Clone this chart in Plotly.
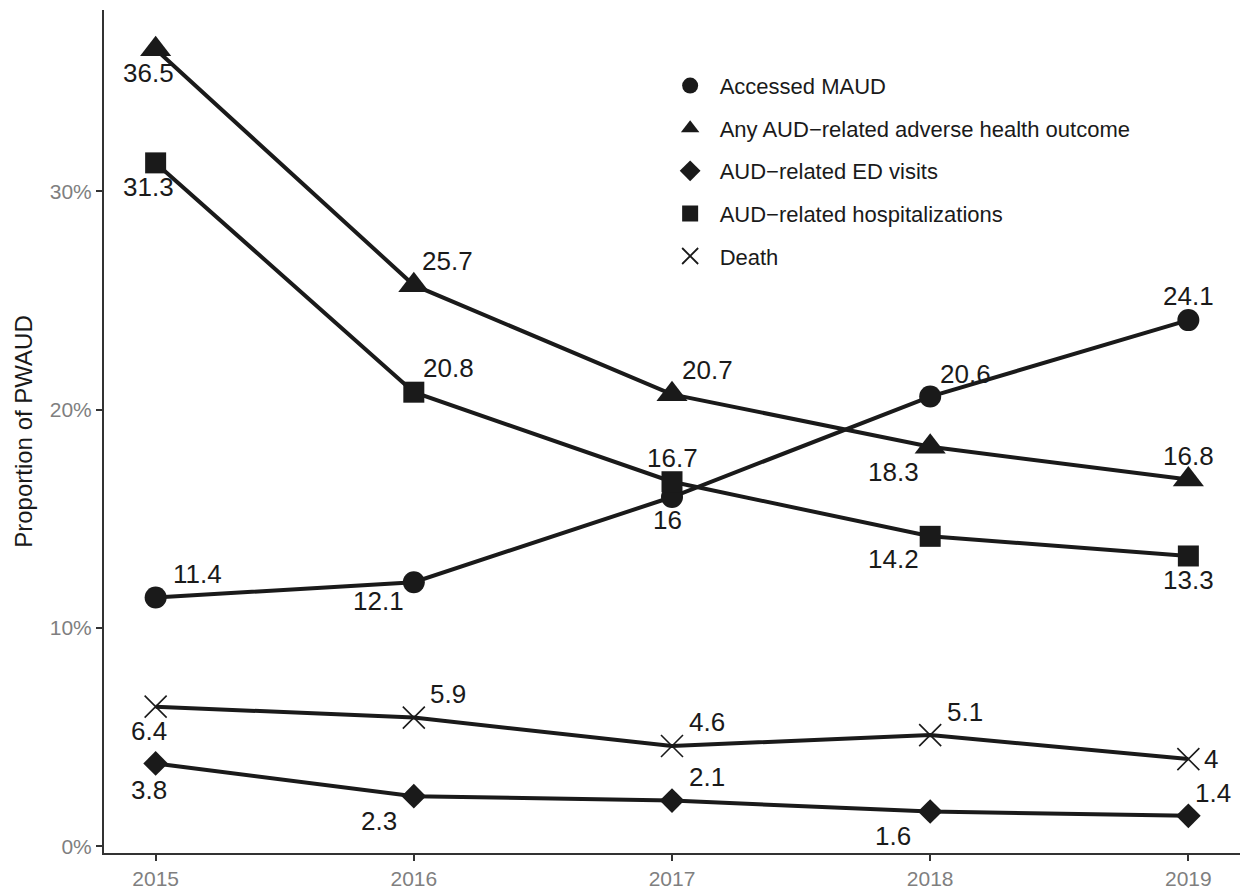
import plotly.graph_objects as go

years = [2015, 2016, 2017, 2018, 2019]
series_names = ["Accessed MAUD", "Any AUD\u2212related adverse health outcome",
                "AUD\u2212related ED visits", "AUD\u2212related hospitalizations", "Death"]
maud = [11.4, 12.1, 16.0, 20.6, 24.1]
any_aud = [36.5, 25.7, 20.7, 18.3, 16.8]
ed_visits = [3.8, 2.3, 2.1, 1.6, 1.4]
hospital = [31.3, 20.8, 16.7, 14.2, 13.3]
death = [6.4, 5.9, 4.6, 5.1, 4.0]
value_labels = [
    ["11.4", "12.1", "16", "20.6", "24.1"],
    ["36.5", "25.7", "20.7", "18.3", "16.8"],
    ["3.8", "2.3", "2.1", "1.6", "1.4"],
    ["31.3", "20.8", "16.7", "14.2", "13.3"],
    ["6.4", "5.9", "4.6", "5.1", "4"],
]
y_ticks = [0, 10, 20, 30]
y_tick_labels = ["0%", "10%", "20%", "30%"]

series = [maud, any_aud, ed_visits, hospital, death]

# styling
symbols = ["circle", "triangle-up", "diamond", "square", "x-thin"]
sizes = [22, 27, 19, 21, 22]
# label pixel offsets (xshift, yshift) per series/point, mimicking repelled labels
offsets = [
    [(42, 23), (-35, -19), (-5, -23), (35, 23), (0, 24)],
    [(-7, -24), (34, 24), (35, 24), (-37, -25), (0, 24)],
    [(-7, -27), (-35, -25), (35, 24), (-37, -24), (25, 23)],
    [(-7, -24), (35, 24), (0, 24), (-37, -23), (0, -24)],
    [(-7, -24), (34, 24), (35, 24), (35, 23), (23, 0)],
]
dark = "#1a1a1a"
FONT = "Liberation Sans, Arial, sans-serif"

fig = go.Figure()
for name, vals, sym, sz in zip(series_names, series, symbols, sizes):
    mk = dict(symbol=sym, size=sz, color=dark)
    if sym == "x-thin":
        mk["line"] = dict(color=dark, width=1.6)
    fig.add_trace(go.Scatter(x=years, y=vals, mode="lines+markers", name=name,
                             line=dict(color=dark, width=4), marker=mk,
                             showlegend=False, hoverinfo="x+y+name"))
# legend-only entries (markers only)
for i, (name, sym, sz) in enumerate(zip(series_names, symbols, sizes)):
    mk = dict(symbol=sym, size=sz, color=dark)
    if sym == "x-thin":
        mk["line"] = dict(color=dark, width=1.8)
    fig.add_trace(go.Scatter(x=[None], y=[None], mode="markers", name=name,
                             marker=mk, legendgroup=f"g{i}", showlegend=True))

annotations = []
for vals, labs, offs in zip(series, value_labels, offsets):
    for x, y, t, (dx, dy) in zip(years, vals, labs, offs):
        annotations.append(dict(x=x, y=y, text=t, showarrow=False,
                                xshift=dx, yshift=dy,
                                font=dict(size=26, color=dark, family=FONT)))

fig.update_layout(
    width=1242, height=892,
    margin=dict(l=104, r=2, t=10, b=33),
    plot_bgcolor="white", paper_bgcolor="white",
    font=dict(family=FONT, color=dark),
    annotations=annotations,
    legend=dict(x=0.49, y=0.935, xanchor="left", yanchor="top",
                font=dict(size=22, color=dark), bgcolor="rgba(0,0,0,0)",
                tracegroupgap=11, itemsizing="trace", itemwidth=49),
    xaxis=dict(range=[2014.8, 2019.2], tickvals=years, ticktext=[str(y) for y in years],
               showgrid=False, zeroline=False, showline=True, linecolor="#333333", linewidth=2,
               ticks="outside", ticklen=6, tickcolor="#333333", tickwidth=2,
               tickfont=dict(size=21, color="#7f7f7f")),
    yaxis=dict(range=[-0.3, 38.3], tickvals=y_ticks, ticktext=y_tick_labels,
               showgrid=False, zeroline=False, showline=True, linecolor="#333333", linewidth=2,
               ticks="outside", ticklen=6, tickcolor="#333333", tickwidth=2,
               tickfont=dict(size=21, color="#7f7f7f"),
               title=dict(text="Proportion of PWAUD", font=dict(size=24, color=dark), standoff=10)),
)

fig.write_html("out.html", config={"displayModeBar": False},
               post_script="document.body.style.margin='0';document.body.style.overflow='hidden';")
